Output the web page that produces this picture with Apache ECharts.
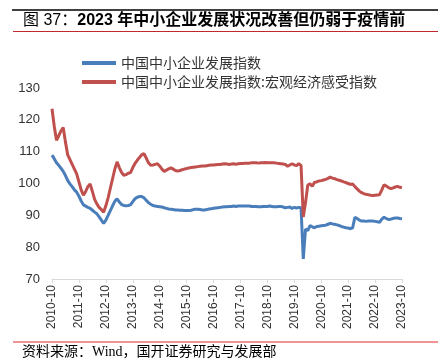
<!DOCTYPE html>
<html><head><meta charset="utf-8">
<script src="https://cdn.jsdelivr.net/npm/echarts@6/dist/echarts.min.js"></script>
<style>html,body{margin:0;padding:0;background:#fff}#c{width:438px;height:361px}</style>
</head><body><div id="c"></div>
<script>
// months 2010-10 .. 2023-10
const months = [];
for (let y = 2010, m = 10; y < 2023 || (y === 2023 && m <= 10); ) {
  months.push(y + '-' + (m < 10 ? '0' + m : m));
  m++; if (m > 12) { m = 1; y++; }
}
const seriesNames = ['中国中小企业发展指数', '中国中小企业发展指数:宏观经济感受指数'];
const blueValues = [
108.9,107.8,106.5,105.7,104.8,103.8,102.5,101,99.9,99,98,97.3,96,94.5,93.3,92.9,92.5,92.2,91.6,91,
90.5,89.5,88.5,87.5,88.5,90,91.5,93,94.4,95.2,94.2,93.4,93.1,93,93.1,93.3,94.3,95.2,95.7,95.9,
95.9,95.5,94.7,94,93.5,93.1,92.9,92.8,92.7,92.6,92.4,92.2,92,91.9,91.8,91.7,91.7,91.6,91.6,91.5,
91.5,91.5,91.6,91.8,91.9,91.9,91.8,91.7,91.7,91.8,92,92.1,92.2,92.3,92.4,92.5,92.6,92.7,92.7,92.8,
92.8,92.9,92.8,92.9,92.9,92.9,92.9,92.9,92.9,92.8,92.8,92.8,92.7,92.7,92.8,92.8,92.8,92.9,92.8,92.7,
92.7,92.8,92.8,92.6,92.4,92.5,92.6,92.2,92.5,92.3,92.5,92.4,76.3,85.7,85.2,86.8,86.4,86.1,86.5,86.6,
86.7,86.8,86.9,87.2,87.5,87.3,87.2,87,86.8,86.5,86.3,86.1,86,85.8,86.1,89.4,89,88.5,88.2,88.2,
88.1,88.2,88.2,88.2,88.1,88,87.8,88.8,89.4,89,88.7,88.8,89,89.2,89.2,89,88.9
];
const redValues = [
123.5,118,113.6,115,116.5,117.6,113,109,107.5,106,104.5,103,100.5,98,96.3,97.5,99,99.9,97.5,95,
93.6,92.5,91.8,91,93,95.5,98.5,101.5,104.5,106.8,105,103.5,102.6,102.8,103.2,103.4,105,106.3,107.3,108.2,
109,109.4,108,106.5,105.7,105.8,106,106.2,105.5,104.5,103.8,104.2,104.6,104.9,104.5,104.1,103.9,104.1,104.3,104.5,
104.7,104.9,105,105.1,105.2,105.3,105.4,105.5,105.5,105.6,105.7,105.8,105.8,105.9,106,106,106.1,106.2,106.1,106,
106.1,106.2,106,106.2,106.3,106.3,106.4,106.4,106.4,106.5,106.5,106.5,106.4,106.5,106.5,106.6,106.5,106.5,106.5,106.5,
106.4,106.3,106.2,106.1,106,105.4,105.8,106.2,105.8,105.6,106.2,105.7,89.5,94,99.5,99.9,99.1,100.4,100.5,100.8,
100.9,101.1,101.3,101.6,102,101.7,101.5,101.2,101,100.8,100.5,100.3,100,99.7,99.9,99,98.3,97.6,97.1,96.8,
96.6,96.5,96.3,96.2,96.3,96.4,96.5,98,99.6,99.2,98.7,98.4,98.6,98.9,99.1,98.8,98.7
];
const yTicks = [70, 80, 90, 100, 110, 120, 130];

const chart = echarts.init(document.getElementById('c'), null, {renderer: 'canvas'});
chart.setOption({
  animation: false,
  backgroundColor: '#fff',
  title: {
    left: 18, top: 8,
    text: '{a|图 37：}{b|2023 年中小企业发展状况改善但仍弱于疫情前}',
    textStyle: {
      rich: {
        a: {fontSize: 16, fontWeight: 'normal', color: '#000', fontFamily: 'Liberation Sans, Noto Sans CJK SC'},
        b: {fontSize: 16, fontWeight: 'bold', color: '#000', fontFamily: 'Liberation Sans, Noto Sans CJK SC'}
      }
    }
  },
  graphic: [
    {type: 'line', shape: {x1: 12, y1: 10, x2: 438, y2: 10}, style: {stroke: '#000', lineWidth: 1.5}},
    {type: 'line', shape: {x1: 13, y1: 31.5, x2: 438, y2: 31.5}, style: {stroke: '#c0282d', lineWidth: 1}},
    {type: 'line', shape: {x1: 13, y1: 342, x2: 438, y2: 342}, style: {stroke: '#e0282d', lineWidth: 1}},
    {type: 'text', left: 22, top: 345, style: {text: '资料来源：Wind，国开证券研究与发展部', fontSize: 14,
      fontFamily: 'Liberation Serif, Noto Sans CJK SC', fill: '#000'}}
  ],
  legend: {
    orient: 'vertical', left: 77, top: 51, itemGap: 5,
    itemWidth: 34, itemHeight: 4, icon: 'rect',
    textStyle: {fontSize: 14, color: '#333', fontFamily: 'Noto Sans CJK SC'},
    data: seriesNames
  },
  grid: {left: 52, right: 36, top: 88, bottom: 82},
  xAxis: {
    type: 'category', data: months, boundaryGap: false,
    axisLine: {lineStyle: {color: '#d9d9d9', width: 1}},
    axisTick: {interval: 11, length: 4, lineStyle: {color: '#d9d9d9'}},
    axisLabel: {interval: 11, rotate: 90, fontSize: 12, color: '#333', margin: 6,
      fontFamily: 'Liberation Sans, DejaVu Sans'}
  },
  yAxis: {
    type: 'value', min: yTicks[0], max: yTicks[yTicks.length - 1], interval: 10,
    axisLine: {show: false}, axisTick: {show: false}, splitLine: {show: false},
    axisLabel: {fontSize: 13, color: '#333', margin: 12, fontFamily: 'Liberation Sans, DejaVu Sans'}
  },
  series: [
    {name: seriesNames[0], type: 'line', data: blueValues, symbol: 'none',
      lineStyle: {width: 3, color: '#4a7ebb'}, itemStyle: {color: '#4a7ebb'}},
    {name: seriesNames[1], type: 'line', data: redValues, symbol: 'none',
      lineStyle: {width: 3, color: '#c0504d'}, itemStyle: {color: '#c0504d'}}
  ]
});
</script></body></html>
